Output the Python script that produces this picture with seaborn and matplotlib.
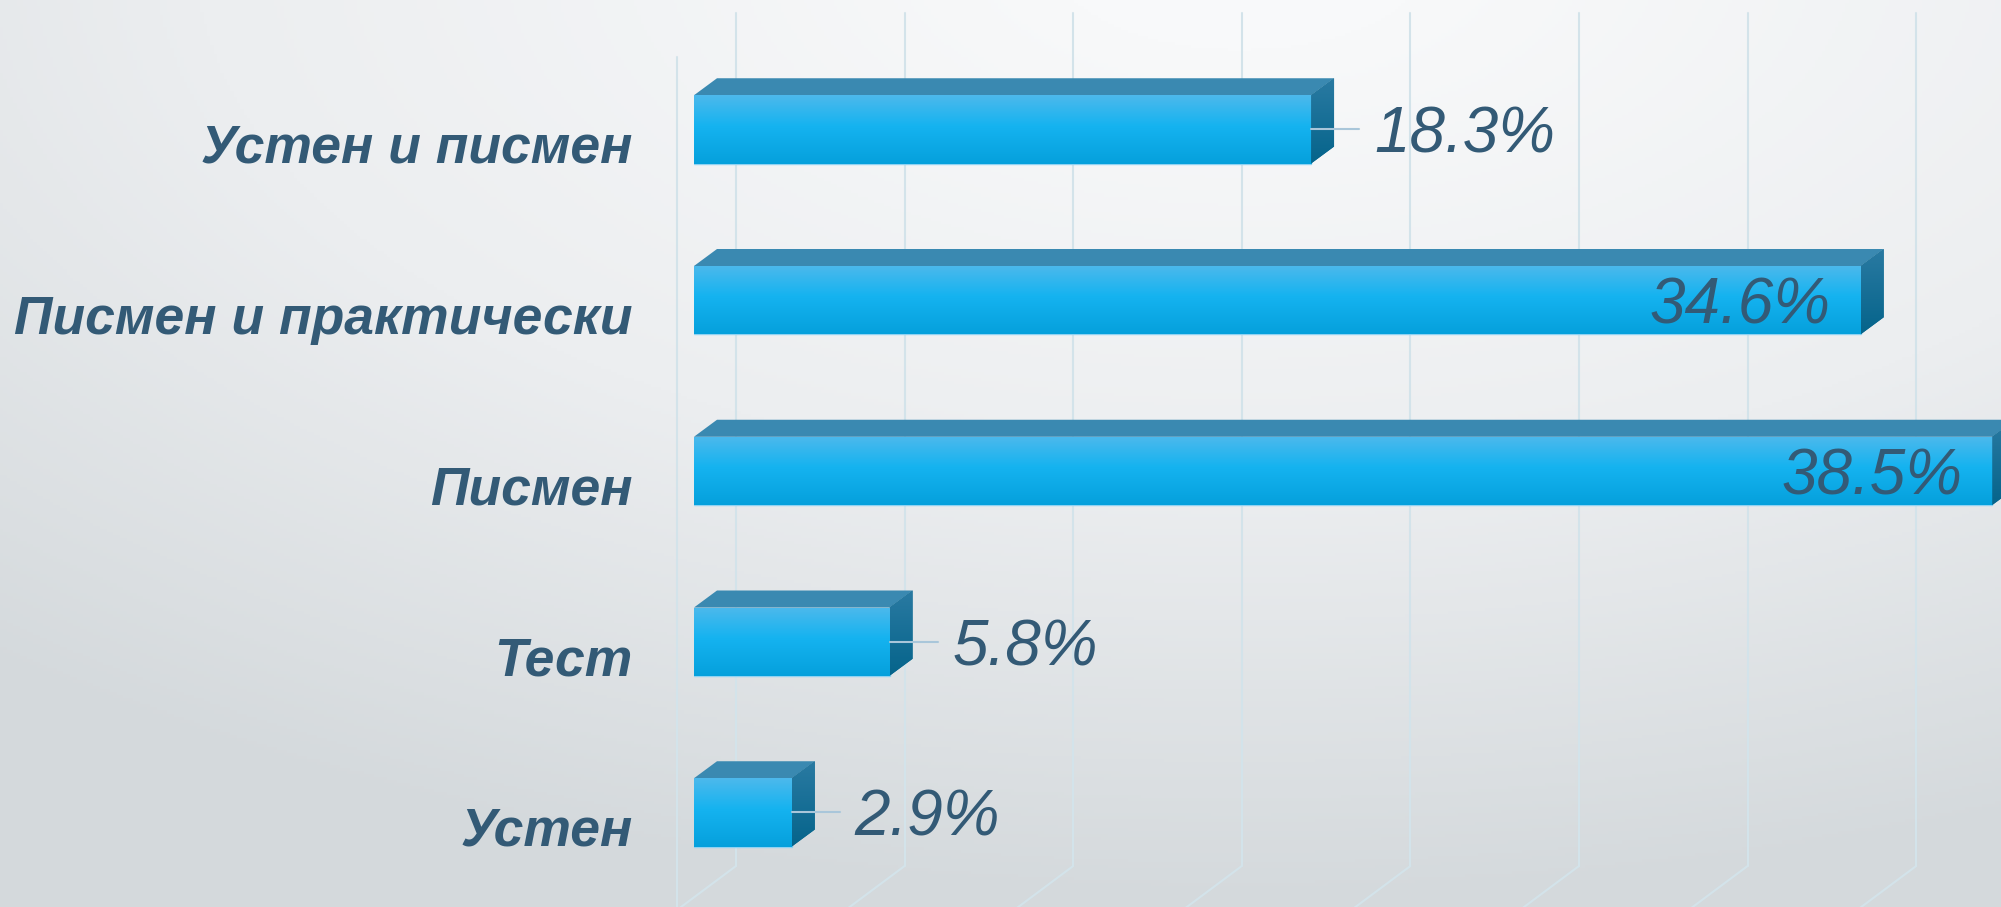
import numpy as np
import pandas as pd
import seaborn as sns
import matplotlib.pyplot as plt
from matplotlib.patches import Polygon
from matplotlib.colors import LinearSegmentedColormap
from matplotlib.transforms import ScaledTranslation

# Data
categories = ["Устен и писмен", "Писмен и практически", "Писмен", "Тест", "Устен"]
values = [18.3, 34.6, 38.5, 5.8, 2.9]
value_labels = ["18.3%", "34.6%", "38.5%", "5.8%", "2.9%"]
grid_ticks = [0, 5, 10, 15, 20, 25, 30, 35]

df = pd.DataFrame({"method": categories, "share": values})

# Layout (pixels of the 2001x907 output)
W, H, DPI = 2001, 907, 100
LEFT_PX = 694          # front plane of the bars
PX_PER_PCT = 33.72
ROW0_PX = 129.4
ROW_PX = 170.75

TEXT = "#335a76"
GRID = "#d3e3ea"


def dx(px):
    return px / PX_PER_PCT


def ydata(py):
    return (py - ROW0_PX) / ROW_PX


sns.set_theme(style="white")
plt.rcParams["font.family"] = ["Liberation Sans", "DejaVu Sans"]

fig = plt.figure(figsize=(W / DPI, H / DPI), dpi=DPI)

# Background gradient
bg = fig.add_axes([0, 0, 1, 1], zorder=0)
yy, xx = np.mgrid[0:1:300j, 0:1:600j]
r = np.sqrt(((xx - 0.62) * 1.1) ** 2 + ((yy + 0.05) * 1.0) ** 2)
bg_cmap = LinearSegmentedColormap.from_list("bg", ["#f8f9fa", "#eceef0", "#d4d9dc"])
bg.imshow(r, cmap=bg_cmap, aspect="auto", extent=[0, 1, 1, 0], vmin=0.1, vmax=1.05)
bg.axis("off")

ax = fig.add_axes([LEFT_PX / W, 0, 1 - LEFT_PX / W, 1], zorder=1)
ax.patch.set_alpha(0)

sns.barplot(data=df, x="share", y="method", orient="h", width=0.4,
            color="#12b2ef", saturation=1, ax=ax)

xmax = (W - LEFT_PX) / PX_PER_PCT
ylim = (ydata(H), ydata(0))

# 3D walls: back wall verticals + floor diagonals
WALL_BACK, WALL_FRONT = 42, -17
for t in grid_ticks:
    xb, xf = t + dx(WALL_BACK), t + dx(WALL_FRONT)
    ax.plot([xb, xb], [ydata(13), ydata(866)], color=GRID, lw=1.5, zorder=1,
            clip_on=False)
    ax.plot([xb, xf], [ydata(866), ydata(910)], color=GRID, lw=1.5, zorder=1,
            clip_on=False)
ax.plot([dx(WALL_FRONT)] * 2, [ydata(57), ydata(910)], color=GRID, lw=1.5,
        zorder=1, clip_on=False)

front_cmap = LinearSegmentedColormap.from_list(
    "front", [(0, "#4db9ec"), (0.45, "#15b3f0"), (1, "#05a0dc")])
side_cmap = LinearSegmentedColormap.from_list("side", ["#2a7aa2", "#05648b"])
grad = np.linspace(0, 1, 256).reshape(-1, 1)

BAR_DX = dx(23)
BAR_DY = 17 / ROW_PX

bars = list(ax.patches)
for rect in bars:
    x, y, w, h = rect.get_x(), rect.get_y(), rect.get_width(), rect.get_height()
    rect.set_edgecolor("#8fd2f2")
    rect.set_linewidth(1)
    rect.set_zorder(3)
    im = ax.imshow(grad, cmap=front_cmap, aspect="auto", origin="upper",
                   extent=[x, x + w, y + h, y], zorder=3.1)
    im.set_clip_path(rect)

    top = Polygon([(x, y), (x + w, y), (x + w + BAR_DX, y - BAR_DY),
                   (x + BAR_DX, y - BAR_DY)], closed=True,
                  facecolor="#3a89b1", edgecolor="none", zorder=3)
    ax.add_patch(top)

    side = Polygon([(x + w, y), (x + w + BAR_DX, y - BAR_DY),
                    (x + w + BAR_DX, y + h - BAR_DY), (x + w, y + h)],
                   closed=True, facecolor="#0a6a90", edgecolor="none", zorder=3)
    ax.add_patch(side)
    im2 = ax.imshow(grad, cmap=side_cmap, aspect="auto", origin="upper",
                    extent=[x + w, x + w + BAR_DX, y + h, y - BAR_DY], zorder=3.1)
    im2.set_clip_path(side)

ax.set_xlim(0, xmax)
ax.set_ylim(*ylim)

# Value labels with leader lines
renderer = fig.canvas.get_renderer()
for rect, lab in zip(bars, value_labels):
    v = rect.get_width()
    yc = rect.get_y() + rect.get_height() / 2
    txt = ax.text(v + dx(63), yc, lab, fontsize=46, style="italic", color=TEXT,
                  ha="left", va="center_baseline", zorder=6)
    bb = txt.get_window_extent(renderer=renderer)
    if bb.x1 > W:
        txt.set_position((v - dx(30), yc))
        txt.set_ha("right")
    else:
        ax.plot([v, v + dx(48)], [yc, yc], color="#a9c6da", lw=1.5, zorder=5)

# Category labels
ax.set_ylabel("")
ax.set_xlabel("")
ax.set_xticks([])
ax.tick_params(axis="y", length=0, pad=44)
ax.set_yticks(range(len(categories)))
ax.set_yticklabels(categories, fontsize=38.5, fontweight="bold", style="italic",
                   color=TEXT, va="center_baseline")
shift = ScaledTranslation(0, -14 / DPI, fig.dpi_scale_trans)
for lbl in ax.get_yticklabels():
    lbl.set_transform(lbl.get_transform() + shift)
sns.despine(ax=ax, left=True, bottom=True)

fig.savefig("out.png", dpi=DPI)
